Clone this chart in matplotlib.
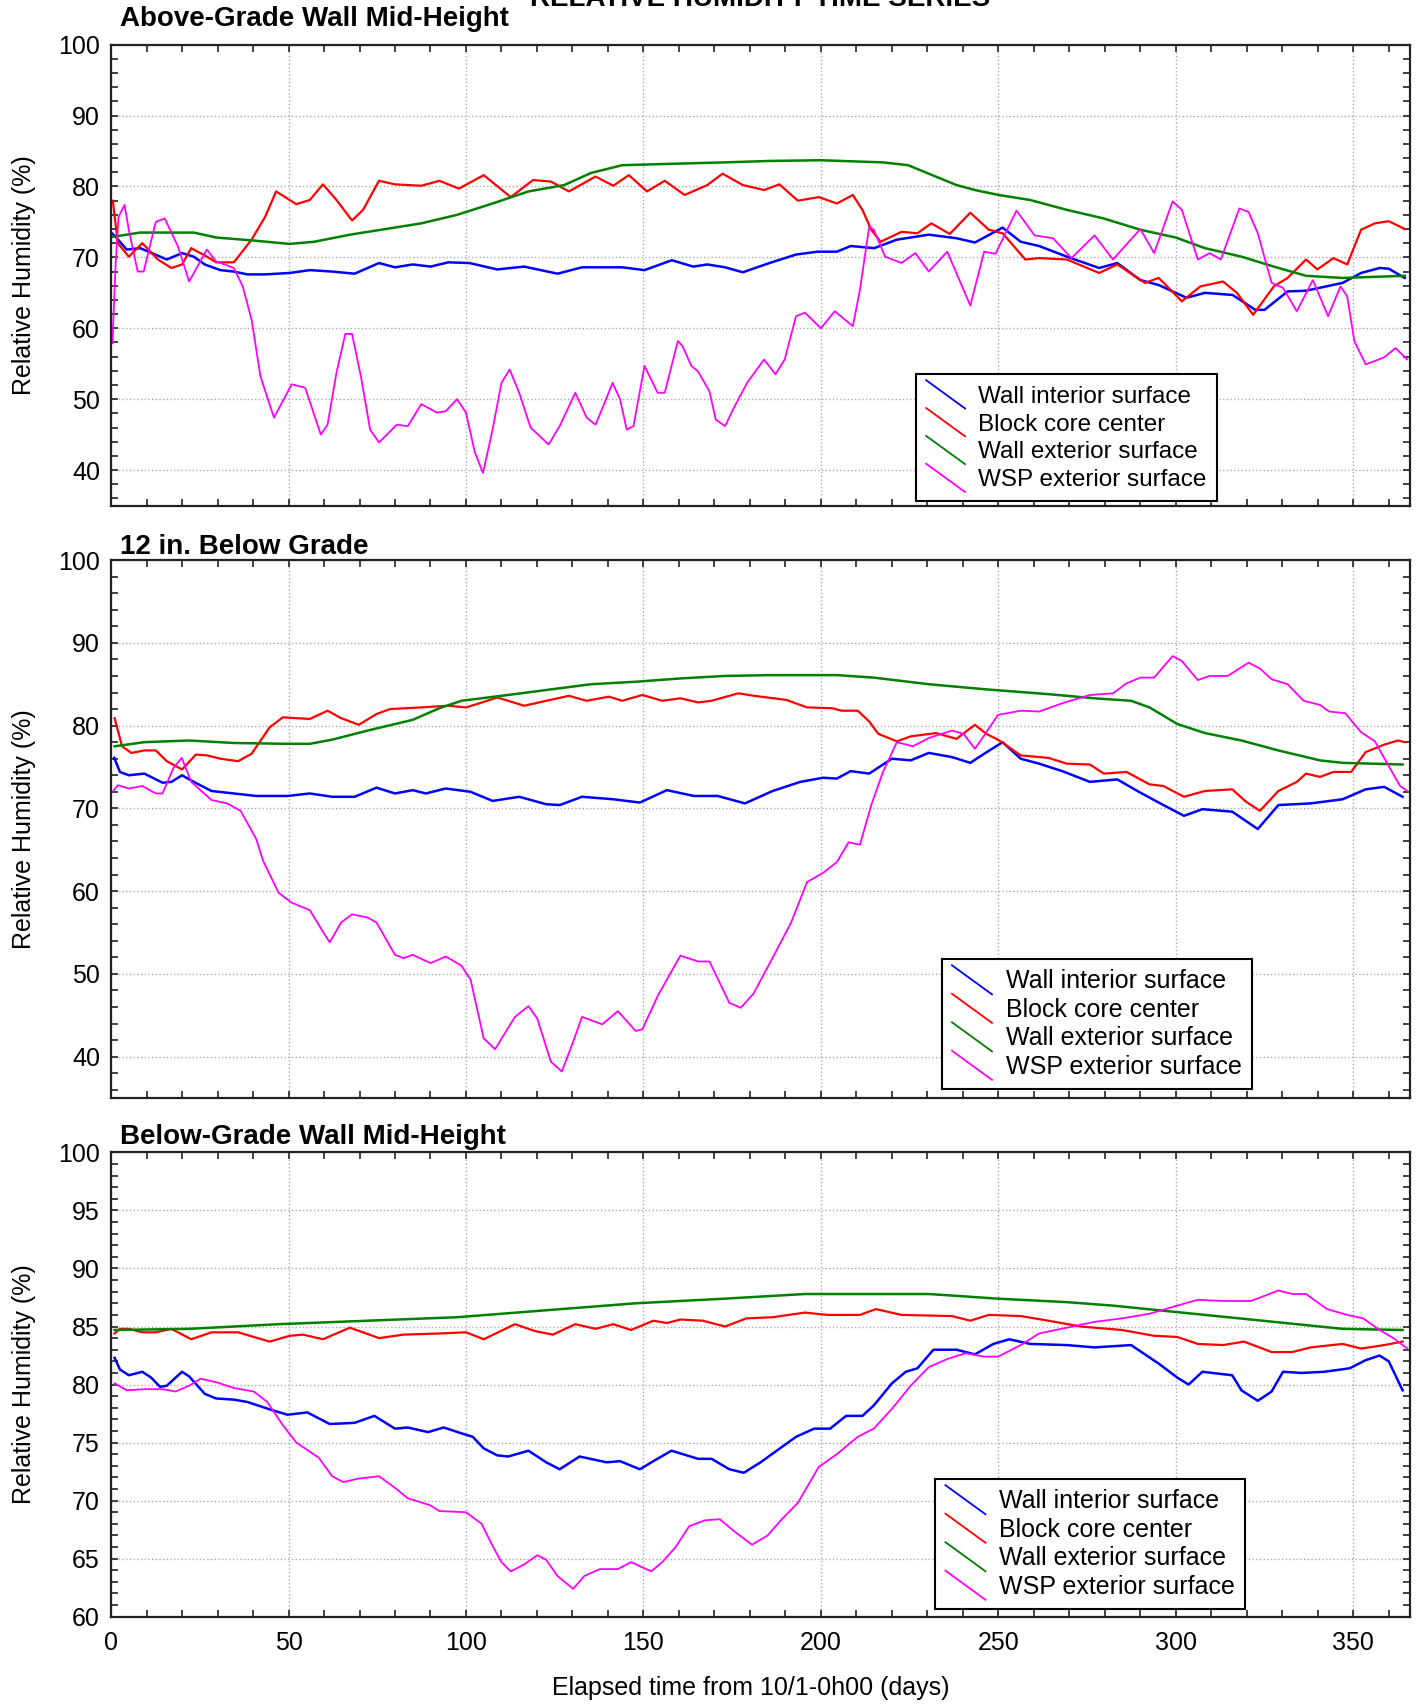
import matplotlib
matplotlib.use('Agg')
import matplotlib.pyplot as plt
from matplotlib.lines import Line2D
from matplotlib.legend_handler import HandlerBase
from matplotlib.ticker import MultipleLocator

plt.rcParams['font.family'] = ['Liberation Sans', 'DejaVu Sans']

# series labels and colours
labels = ['Wall interior surface', 'Block core center', 'Wall exterior surface', 'WSP exterior surface']
colors = ['#0000ff', '#ff0000', '#008000', '#ff00ff']
widths = [1.8, 1.6, 1.8, 1.3]

# ---- Above-Grade Wall Mid-Height : (day, RH %) ----
top_wall_int = [(0, 73.5), (1.3, 72.9), (4.4, 71.1), (8.2, 71.3), (12, 70.5), (15.7, 69.7), (20, 70.6),
                (23.3, 70.1), (26.4, 69), (30.8, 68.2), (34.6, 68), (38.4, 67.6), (43.4, 67.6), (50.3, 67.8),
                (56, 68.2), (62.3, 68), (68.6, 67.7), (75.5, 69.2), (80, 68.6), (85, 69), (90, 68.7),
                (95, 69.3), (101, 69.2), (108.8, 68.3), (116.4, 68.7), (125.8, 67.7), (132.7, 68.6),
                (144, 68.6), (150.3, 68.2), (158, 69.6), (164, 68.7), (168, 69), (173, 68.6), (178, 67.9),
                (185.5, 69.2), (193, 70.4), (199, 70.8), (204.5, 70.8), (208.4, 71.6), (215, 71.3),
                (221.4, 72.5), (230.4, 73.2), (238.2, 72.7), (243.4, 72.1), (251.2, 74.2), (256.3, 72.2),
                (261.5, 71.6), (269.3, 70.1), (278.4, 68.5), (283.5, 69.2), (290, 66.8), (295.2, 66.1),
                (303, 64.3), (308.2, 65), (316, 64.7), (322.4, 62.6), (325, 62.6), (331.5, 65.2),
                (336.7, 65.3), (347, 66.4), (352.2, 67.8), (357.4, 68.5), (360, 68.4), (364.5, 67.1)]
top_block_core = [(0.5, 78), (1.9, 72), (5, 70.1), (8.8, 72), (13.2, 69.7), (17, 68.5), (20, 69), (22.6, 71.3),
                  (27, 70.1), (29.6, 69.3), (34.6, 69.3), (39.6, 72.5), (43.4, 75.7), (46.5, 79.3),
                  (52.2, 77.5), (56, 78.1), (59.7, 80.3), (63.5, 78.1), (67.9, 75.2), (71, 76.7),
                  (75.5, 80.8), (80, 80.3), (87.4, 80.1), (92.5, 80.8), (98, 79.7), (105, 81.6),
                  (112.6, 78.5), (118.9, 80.9), (123.9, 80.7), (129, 79.3), (136.5, 81.4), (141.5, 80.1),
                  (145.9, 81.6), (151, 79.3), (156, 80.8), (161.6, 78.8), (168, 80.2), (172.3, 81.8),
                  (178, 80.2), (184, 79.5), (188.3, 80.3), (193.5, 78), (199.4, 78.5), (204.5, 77.6),
                  (209, 78.8), (211.7, 76.7), (214.2, 73.9), (216.8, 72.2), (222.7, 73.6), (227.2, 73.4),
                  (231.1, 74.8), (236.3, 73.3), (242.1, 76.3), (247.3, 73.9), (251.2, 73.4), (257.6, 69.7),
                  (261.5, 69.9), (269.3, 69.7), (278.4, 67.8), (283.5, 69), (291.3, 66.4), (295.2, 67.1),
                  (301.7, 63.8), (306.9, 65.9), (313.3, 66.6), (317.2, 65), (321.8, 61.9), (327.6, 65.9),
                  (331.5, 67.1), (336.7, 69.7), (339.9, 68.3), (344.4, 69.9), (348.3, 69), (352.2, 73.9),
                  (356.1, 74.8), (360, 75.1), (364.5, 74)]
top_wall_ext = [(0.5, 72.9), (8.2, 73.5), (23.3, 73.5), (29.6, 72.8), (39.6, 72.4), (50.3, 71.9), (57.2, 72.2),
                (67.3, 73.2), (77.4, 74), (87.4, 74.8), (97.5, 76), (107.5, 77.6), (117.6, 79.3),
                (127.7, 80.2), (135.2, 81.9), (144, 83), (158, 83.2), (173, 83.4), (185.5, 83.6), (200, 83.7),
                (217.5, 83.4), (224.6, 83), (230.4, 81.8), (238.2, 80.2), (243.4, 79.5), (250.1, 78.8),
                (258.9, 78.1), (269.3, 76.7), (279.6, 75.5), (290, 73.9), (300, 72.8), (308.2, 71.3),
                (318.5, 70.1), (327.6, 68.7), (336.7, 67.4), (347, 67.1), (364.5, 67.4)]
top_wsp_ext = [(0.4, 57.9), (1.3, 69.2), (2.1, 75.7), (3.8, 77.4), (5, 73.9), (7.5, 68), (9.2, 68), (12.6, 75),
               (15.1, 75.5), (18.9, 71.5), (22, 66.6), (27, 71.1), (29.6, 69.4), (32, 69), (34.6, 68.5),
               (37.1, 65.9), (39.6, 61.2), (42.1, 53.2), (45.9, 47.4), (50.9, 52.1), (54.7, 51.6), (59.1, 45),
               (61, 46.4), (63.5, 53.7), (66, 59.2), (67.9, 59.2), (70.4, 53.2), (73, 45.7), (75.5, 43.9),
               (80.5, 46.4), (83.6, 46.2), (87.4, 49.3), (91.8, 48.1), (94.3, 48.3), (97.5, 50), (100, 48.1),
               (102.5, 42.5), (104.8, 39.6), (107.5, 45.7), (110, 52.3), (112.3, 54.2), (115, 50.9),
               (118.2, 46), (123.3, 43.6), (126.4, 46.2), (130.8, 50.9), (134, 47.4), (136.5, 46.4),
               (139, 49.4), (141.3, 52.3), (143.4, 50), (145.3, 45.7), (147.2, 46.2), (150.3, 54.7),
               (154, 50.9), (156, 50.9), (159.7, 58.2), (161, 57.5), (163.5, 54.7), (165.4, 53.9),
               (168.6, 51.1), (170.4, 47.1), (173, 46.2), (175.5, 48.8), (179.2, 52.3), (184, 55.6),
               (187.2, 53.5), (189.8, 55.6), (193, 61.7), (195.5, 62.2), (200, 60), (203.9, 62.4), (209, 60.3),
               (211, 65.4), (213.6, 74.3), (214.9, 73.9), (218.1, 70.1), (222.7, 69.2), (226.6, 70.6),
               (230.4, 68), (235.6, 70.8), (242.1, 63.2), (246, 70.8), (249.2, 70.5), (255.1, 76.6),
               (260.2, 73.1), (265.4, 72.7), (270.6, 69.9), (277.1, 73.1), (282.3, 69.7), (290, 74),
               (293.9, 70.6), (299.1, 77.9), (301.7, 76.7), (306.2, 69.7), (309.5, 70.6), (312.7, 69.7),
               (317.9, 76.9), (320.5, 76.4), (323.1, 73.4), (327, 66.4), (330.2, 65.7), (334.1, 62.4),
               (338.6, 66.8), (342.9, 61.7), (346.4, 65.9), (348.3, 64.5), (350.3, 58.2), (353.5, 54.9),
               (358.7, 55.9), (361.9, 57.2), (365.2, 55.6)]

# ---- 12 in. Below Grade ----
mid_wall_int = [(0.9, 76.1), (2.5, 74.4), (5, 74), (9.4, 74.2), (14.5, 73.1), (17, 73.2), (20, 74), (23.3, 73.2),
                (28.3, 72.1), (34.6, 71.8), (40.9, 71.5), (49.7, 71.5), (56, 71.8), (62.3, 71.4), (68.6, 71.4),
                (74.8, 72.5), (80, 71.8), (85, 72.2), (88.7, 71.8), (94.3, 72.4), (101.3, 72), (107.5, 70.9),
                (115, 71.4), (122.6, 70.5), (126.4, 70.4), (132.7, 71.4), (141.5, 71.1), (149, 70.7),
                (156.6, 72.2), (164.2, 71.5), (170.9, 71.5), (178.6, 70.6), (186.4, 72.1), (194.2, 73.2),
                (200.6, 73.7), (204.5, 73.6), (208.4, 74.5), (213.6, 74.2), (220, 76), (225.3, 75.8),
                (230.4, 76.7), (236.9, 76.2), (242.1, 75.5), (246, 76.6), (251.2, 78), (256.3, 76),
                (261.5, 75.4), (268, 74.5), (275.8, 73.2), (283.5, 73.5), (290, 71.9), (296.5, 70.4),
                (302.3, 69.1), (307.5, 69.9), (315.9, 69.6), (323.1, 67.5), (328.9, 70.4), (338, 70.6),
                (347, 71.1), (353.5, 72.3), (358.7, 72.6), (363.9, 71.4)]
mid_block_core = [(1, 80.9), (3.1, 77.5), (5.7, 76.7), (9.4, 77), (12.6, 77), (15.7, 75.7), (20, 74.7),
                  (23.9, 76.5), (27, 76.4), (30.8, 76), (35.8, 75.7), (39.6, 76.6), (44.7, 79.8), (48.4, 81),
                  (56, 80.8), (61, 81.8), (64.8, 80.9), (69.8, 80.1), (74.8, 81.4), (78.6, 82), (87.4, 82.2),
                  (95, 82.4), (100, 82.2), (103.8, 82.7), (108.8, 83.4), (116.4, 82.4), (122.6, 83),
                  (129, 83.6), (134, 83), (140.3, 83.5), (144, 83), (149.7, 83.7), (155.3, 83), (160.4, 83.3),
                  (165.4, 82.8), (169.2, 83), (176.7, 83.9), (181.2, 83.6), (190.3, 83.1), (196.1, 82.2),
                  (203.2, 82.1), (205.8, 81.8), (210.4, 81.8), (213.6, 80.5), (216.2, 79), (221.4, 78.1),
                  (225.3, 78.7), (232.4, 79.1), (238.2, 78.4), (243.4, 80.1), (246.6, 79), (249.9, 78.3),
                  (256.3, 76.4), (264.1, 76.1), (269.3, 75.4), (275.8, 75.3), (279.7, 74.2), (286.1, 74.4),
                  (292.6, 72.9), (296.5, 72.7), (302.3, 71.4), (308.2, 72.1), (315.9, 72.3), (319.8, 70.8),
                  (323.7, 69.7), (328.9, 72.1), (334.1, 73.2), (336.7, 74.2), (340.6, 73.8), (344.4, 74.4),
                  (349.4, 74.4), (353.5, 76.8), (358.7, 77.7), (362.6, 78.2), (364.5, 78)]
mid_wall_ext = [(1, 77.5), (9.4, 78), (22, 78.2), (34.6, 77.9), (49.7, 77.8), (56, 77.8), (62.3, 78.3),
                (72.3, 79.4), (85, 80.7), (92.5, 82.1), (98.7, 83), (110, 83.6), (122.6, 84.3), (135.2, 85),
                (147.8, 85.3), (160.4, 85.7), (173, 86), (185.5, 86.1), (204.5, 86.1), (214.9, 85.8),
                (230.4, 85), (246, 84.4), (264.1, 83.8), (277.1, 83.3), (287.4, 83), (292.6, 82.2),
                (300.4, 80.2), (308.2, 79.1), (318.5, 78.2), (328.9, 77), (340.6, 75.8), (347, 75.5),
                (363.9, 75.3)]
mid_wsp_ext = [(0.6, 72.1), (1.9, 72.8), (5, 72.4), (8.8, 72.7), (12.6, 71.8), (14.5, 71.8), (17.6, 74.9),
               (19.9, 76.1), (22.6, 73.2), (28.3, 71), (32.7, 70.6), (36.5, 69.7), (40.9, 66.3), (42.8, 63.7),
               (47.2, 59.8), (50.9, 58.6), (56, 57.7), (59.7, 55.1), (61.6, 53.8), (64.8, 56.2), (67.9, 57.2),
               (72.3, 56.8), (74.8, 56.2), (80, 52.3), (82.4, 51.9), (85, 52.3), (90, 51.3), (94.3, 52.1),
               (98.7, 51), (101.3, 49.3), (105, 42.2), (108.2, 40.9), (113.8, 44.8), (117.6, 46.1),
               (120.1, 44.6), (123.9, 39.4), (127, 38.2), (130.2, 41.8), (132.7, 44.8), (138.4, 43.9),
               (142.8, 45.5), (147.8, 43.1), (149.7, 43.3), (154.1, 47.4), (160.4, 52.2), (165.4, 51.5),
               (168.6, 51.5), (174.2, 46.5), (177.4, 45.9), (181, 47.6), (186.6, 52.1), (191.6, 56.2),
               (196.1, 61.1), (200.6, 62.2), (204.5, 63.5), (207.8, 65.9), (211, 65.6), (214.2, 70.4),
               (217.5, 74.4), (221.4, 78), (225.9, 77.5), (230.4, 78.5), (236.9, 79.4), (240.2, 79),
               (243.4, 77.2), (246, 78.8), (249.9, 81.3), (256.3, 81.8), (261.5, 81.7), (268, 82.7),
               (275.8, 83.7), (282.3, 83.9), (286.1, 85.1), (290, 85.8), (293.9, 85.8), (299.1, 88.4),
               (301.7, 87.8), (306.2, 85.5), (309.5, 86), (314.6, 86), (320.5, 87.6), (323.7, 86.9),
               (327, 85.6), (331.5, 85), (336, 83), (340.6, 82.5), (343.2, 81.7), (347.7, 81.5),
               (352.2, 79.2), (356.1, 78.1), (360, 75.1), (363.2, 72.7), (365.2, 72.1)]

# ---- Below-Grade Wall Mid-Height ----
bot_wall_int = [(1, 82.3), (2.5, 81.3), (5, 80.8), (8.8, 81.1), (11.3, 80.6), (13.8, 79.8), (15.7, 79.9),
                (20, 81.1), (22, 80.7), (26.4, 79.2), (29.6, 78.8), (34.6, 78.7), (38.4, 78.5), (45.3, 77.8),
                (49.7, 77.4), (55.3, 77.6), (61.6, 76.6), (68.6, 76.7), (74.2, 77.3), (80, 76.2), (83.6, 76.3),
                (89.3, 75.9), (93.7, 76.3), (98.7, 75.8), (101.9, 75.5), (105, 74.5), (108.8, 73.9),
                (111.9, 73.8), (117.6, 74.3), (122.6, 73.3), (126.4, 72.7), (132, 73.8), (139.6, 73.3),
                (143.4, 73.4), (149, 72.7), (152.8, 73.4), (157.9, 74.3), (165.4, 73.6), (169.2, 73.6),
                (174.2, 72.7), (178.3, 72.4), (183, 73.3), (188, 74.4), (193, 75.5), (198.1, 76.2),
                (202.6, 76.2), (207.1, 77.3), (211.7, 77.3), (214.9, 78.2), (220, 80.1), (223.9, 81.1),
                (227.2, 81.4), (231.7, 83), (238.2, 83), (243.4, 82.6), (248.6, 83.5), (253.1, 83.9),
                (258.9, 83.5), (269.3, 83.4), (277.1, 83.2), (287.4, 83.4), (295.2, 81.8), (300.4, 80.6),
                (303.6, 80), (307.5, 81.1), (315.9, 80.8), (318.5, 79.5), (323.1, 78.6), (327, 79.4),
                (330.2, 81.1), (335.4, 81), (341.8, 81.1), (349, 81.4), (353.5, 82.1), (357.4, 82.5),
                (360, 82), (363.9, 79.5)]
bot_block_core = [(1, 84.4), (2.5, 84.8), (5, 84.8), (8.8, 84.5), (12.6, 84.5), (17, 84.8), (22.6, 83.9),
                  (28.3, 84.5), (35.8, 84.5), (40.2, 84.1), (44.7, 83.7), (50.3, 84.2), (54.1, 84.3),
                  (59.7, 83.9), (67.3, 84.9), (75.5, 84), (82.4, 84.3), (92.5, 84.4), (100, 84.5), (105, 83.9),
                  (113.8, 85.2), (119.5, 84.6), (124.5, 84.3), (130.8, 85.2), (136.5, 84.8), (141.5, 85.2),
                  (146.5, 84.7), (152.8, 85.5), (156.6, 85.3), (160.4, 85.6), (166.7, 85.5), (173, 85),
                  (179, 85.7), (186.4, 85.8), (195.5, 86.2), (201.9, 86), (211, 86), (215.5, 86.5),
                  (222.7, 86), (236.9, 85.9), (242.1, 85.5), (247.3, 86), (256.3, 85.9), (264.1, 85.5),
                  (273.2, 85), (284.8, 84.7), (293.9, 84.2), (300.4, 84.1), (306.2, 83.5), (313.3, 83.4),
                  (319.2, 83.7), (327, 82.8), (332.8, 82.8), (338, 83.2), (347, 83.5), (352.2, 83.1),
                  (358.7, 83.4), (363.9, 83.7)]
bot_wall_ext = [(1, 84.7), (22, 84.8), (47.2, 85.2), (72.3, 85.5), (97.5, 85.8), (122.6, 86.4), (147.8, 87),
                (173, 87.4), (195.5, 87.8), (230.4, 87.8), (249.9, 87.4), (269.3, 87.1), (282.3, 86.8),
                (295.2, 86.4), (308.2, 86), (321.2, 85.6), (334.1, 85.2), (347, 84.8), (363.9, 84.7)]
bot_wsp_ext = [(1, 80.1), (4.4, 79.5), (9.4, 79.6), (14.5, 79.6), (18.2, 79.4), (22, 79.9), (25.2, 80.5),
               (29.6, 80.2), (34.6, 79.7), (40.2, 79.4), (44, 78.5), (48.4, 76.5), (52.2, 75), (58.5, 73.7),
               (62.3, 72.1), (65.4, 71.6), (69.8, 71.9), (75.5, 72.1), (80, 71.1), (83.6, 70.2), (89.9, 69.6),
               (92.5, 69.1), (100, 69), (104.4, 68), (107.5, 66.1), (110, 64.7), (112.6, 63.9), (116.4, 64.5),
               (120.1, 65.3), (122.6, 64.9), (125.8, 63.5), (130.2, 62.4), (133.3, 63.5), (137.7, 64.1),
               (142.8, 64.1), (146.5, 64.7), (152.2, 63.9), (155.3, 64.7), (159.1, 66), (162.9, 67.8),
               (167.3, 68.3), (171.5, 68.4), (175.8, 67.3), (180.6, 66.2), (185, 67), (189, 68.4),
               (193.5, 69.8), (199.4, 72.9), (204.5, 74), (210.4, 75.5), (214.9, 76.2), (220, 77.9),
               (225.3, 79.9), (230.4, 81.5), (235.6, 82.2), (240.8, 82.7), (246, 82.4), (249.9, 82.4),
               (256.3, 83.4), (261.5, 84.4), (269.3, 84.9), (277.1, 85.4), (284.8, 85.7), (292.6, 86.1),
               (300.4, 86.8), (306.2, 87.3), (313.3, 87.2), (321.2, 87.2), (328.9, 88.1), (332.8, 87.8),
               (336.7, 87.8), (342.6, 86.5), (348.3, 86), (352.8, 85.7), (357.4, 84.7), (361.3, 84),
               (365.2, 83.1)]

panel_titles = ['Above-Grade Wall Mid-Height', '12 in. Below Grade', 'Below-Grade Wall Mid-Height']
x_ticks = [0, 50, 100, 150, 200, 250, 300, 350]


class DiagonalHandler(HandlerBase):
    # legend key drawn as a short line going down to the right
    def create_artists(self, legend, orig_handle, xdescent, ydescent, width, height, fontsize, trans):
        x0, x1 = -xdescent, -xdescent + width
        y0, y1 = -ydescent + height * 1.15, -ydescent - height * 0.15
        ln = Line2D([x0, x1], [y0, y1], color=orig_handle.get_color(),
                    lw=1.3, transform=trans)
        return [ln]


fig = plt.figure(figsize=(14.22, 17.05), dpi=100)

ax_left, ax_width = 0.0781, 0.9135
panels = [
    dict(rect=[ax_left, 0.7035, ax_width, 0.2703], series=[top_wall_int, top_block_core, top_wall_ext, top_wsp_ext],
         ylim=(35, 100), major=10, minor=2, title_y=0.9845, leg=(0.851, 0.01), fs=17.5),
    dict(rect=[ax_left, 0.3560, ax_width, 0.3155], series=[mid_wall_int, mid_block_core, mid_wall_ext, mid_wsp_ext],
         ylim=(35, 100), major=10, minor=2, title_y=0.6750, leg=(0.878, 0.017), fs=18),
    dict(rect=[ax_left, 0.0518, ax_width, 0.2723], series=[bot_wall_int, bot_block_core, bot_wall_ext, bot_wsp_ext],
         ylim=(60, 100), major=5, minor=1, title_y=0.3290, leg=(0.873, 0.017), fs=18),
]

for i, p in enumerate(panels):
    ax = fig.add_axes(p['rect'])
    lines = []
    for data, c, lw, lab in zip(p['series'], colors, widths, labels):
        d = [v[0] for v in data]
        rh = [v[1] for v in data]
        ln, = ax.plot(d, rh, color=c, lw=lw, label=lab)
        lines.append(ln)

    ax.set_xlim(0, 366)
    ax.set_ylim(*p['ylim'])
    ax.set_xticks(x_ticks)
    ax.xaxis.set_minor_locator(MultipleLocator(10))
    ax.yaxis.set_major_locator(MultipleLocator(p['major']))
    ax.yaxis.set_minor_locator(MultipleLocator(p['minor']))
    ax.tick_params(which='both', direction='in', top=True, right=True, length=5, width=1.2, color='#222222')
    ax.tick_params(axis='y', labelsize=18, pad=8)
    ax.tick_params(axis='x', labelsize=18, pad=10, labelbottom=(i == 2))
    ax.grid(which='major', ls=':', color='#aaaaaa', lw=1.0)
    for sp in ax.spines.values():
        sp.set_linewidth(1.6)
        sp.set_color('#222222')

    ax.set_ylabel('Relative Humidity (%)', fontsize=18)
    ax.yaxis.set_label_coords(-0.058, 0.5)

    fig.text(0.0841, p['title_y'], panel_titles[i], fontsize=20, fontweight='bold', ha='left', va='baseline')

    leg = ax.legend(lines, labels, loc='lower right', bbox_to_anchor=p['leg'],
                    handler_map={Line2D: DiagonalHandler()}, fontsize=p['fs'],
                    frameon=True, fancybox=False, framealpha=1, edgecolor='black',
                    handlelength=1.6, handleheight=1.0, handletextpad=0.55,
                    labelspacing=0.15, borderpad=0.4, borderaxespad=0)
    leg.get_frame().set_linewidth(1.5)

    if i == 2:
        ax.set_xlabel('Elapsed time from 10/1-0h00 (days)', fontsize=18)
        ax.xaxis.set_label_coords(0.4925, -0.127)

# main title, partly cut off at the top edge as in the source
fig.text(0.5345, 0.9962, 'RELATIVE HUMIDITY TIME SERIES', fontsize=20, fontweight='bold',
         ha='center', va='baseline')

fig.savefig('out.png', dpi=100)
